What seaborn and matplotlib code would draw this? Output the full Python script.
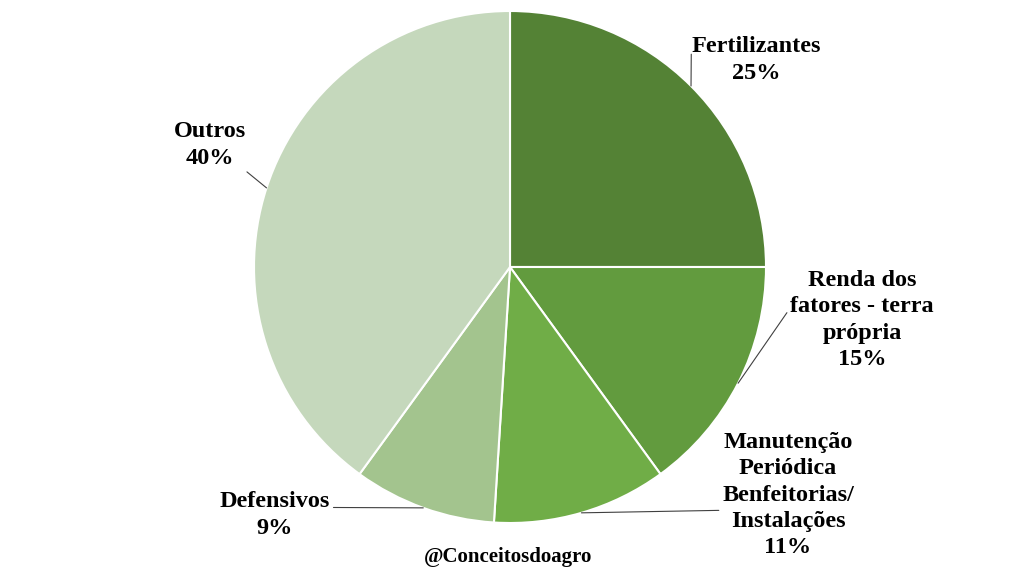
import numpy as np
import matplotlib
matplotlib.use("Agg")
import matplotlib.pyplot as plt
import seaborn as sns

categories = ["Fertilizantes", "Renda dos\nfatores - terra\nprópria", "Manutenção\nPeriódica\nBenfeitorias/\nInstalações", "Defensivos", "Outros"]
values = [25, 15, 11, 9, 40]
colors = ["#548235", "#629B3E", "#70AD47", "#A3C48E", "#C5D8BC"]

sns.set_theme(style="white")
plt.rcParams['font.family'] = ['Liberation Serif', 'DejaVu Serif']

fig = plt.figure(figsize=(10.24, 5.76), dpi=100)
ax = fig.add_axes([0, 0, 1, 1])
wedges, _ = ax.pie(values, colors=colors, startangle=90, counterclock=False,
                   radius=1, wedgeprops=dict(edgecolor="white", linewidth=1.5))
ax.set_aspect("auto")
ax.set_xlim(-510/256, (1024-510)/256)
ax.set_ylim((267-576)/256, 267/256)
ax.axis("off")

# label positions (layout) and leader attachments
label_pos = [(0.961, 0.809), (1.375, -0.207), (1.086, -0.891), (-0.918, -0.969), (-1.172, 0.477)]
relpos = [(0.0, 0.62), (0.0, 0.62), (0.0, 0.38), (1.0, 0.66), (0.86, 0.12)]

total = sum(values)
cum = 0
for i, (cat, v) in enumerate(zip(categories, values)):
    mid = cum + v / 2
    cum += v
    ang = np.deg2rad(90 - 360 * mid / total)
    xy = (np.cos(ang), np.sin(ang))
    ax.annotate(f"{cat}\n{v}%", xy=xy, xytext=label_pos[i], textcoords="data",
                ha="center", va="center", fontsize=17.5, fontweight="bold", color="black",
                linespacing=1.34,
                arrowprops=dict(arrowstyle="-", color="#404040", lw=0.8,
                                relpos=relpos[i], shrinkA=0, shrinkB=0))

ax.text(-0.008, -1.133, "@Conceitosdoagro", ha="center", va="center",
        fontsize=15, fontweight="bold", color="black")

fig.savefig("out.png", dpi=100, facecolor="white")
